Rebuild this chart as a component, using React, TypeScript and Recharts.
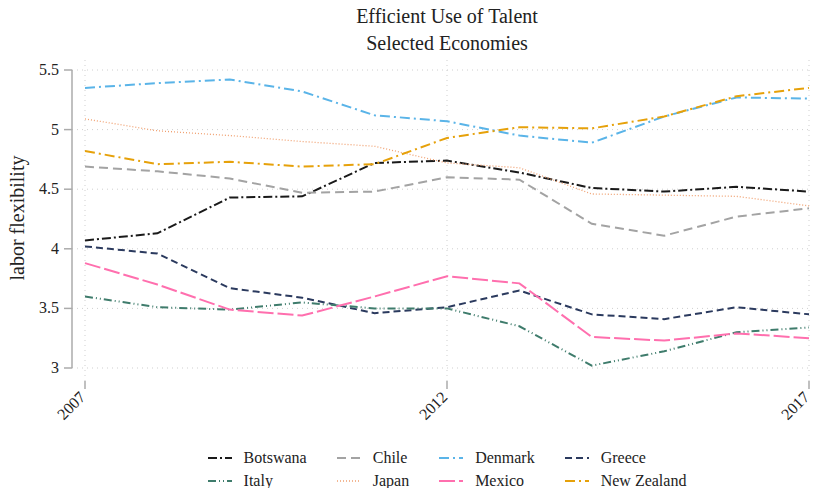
import { LineChart, Line, XAxis, YAxis, CartesianGrid, ReferenceLine } from "recharts";

const years = [2007, 2008, 2009, 2010, 2011, 2012, 2013, 2014, 2015, 2016, 2017];
const botswana = [4.07, 4.13, 4.43, 4.44, 4.72, 4.74, 4.64, 4.51, 4.48, 4.52, 4.48];
const chile = [4.69, 4.65, 4.59, 4.47, 4.48, 4.6, 4.58, 4.21, 4.11, 4.27, 4.34];
const denmark = [5.35, 5.39, 5.42, 5.32, 5.12, 5.07, 4.95, 4.89, 5.11, 5.27, 5.26];
const greece = [4.02, 3.96, 3.67, 3.59, 3.46, 3.51, 3.65, 3.45, 3.41, 3.51, 3.45];
const italy = [3.6, 3.51, 3.49, 3.55, 3.5, 3.5, 3.35, 3.02, 3.14, 3.3, 3.34];
const japan = [5.09, 4.99, 4.95, 4.9, 4.86, 4.72, 4.68, 4.46, 4.45, 4.44, 4.36];
const mexico = [3.88, 3.7, 3.49, 3.44, 3.6, 3.77, 3.71, 3.26, 3.23, 3.29, 3.25];
const newZealand = [4.82, 4.71, 4.73, 4.69, 4.71, 4.93, 5.02, 5.01, 5.11, 5.28, 5.35];

const xTicks = [2007, 2012, 2017];
const yTicks = [3, 3.5, 4, 4.5, 5, 5.5];

const series = [
  { key: "Botswana", values: botswana, color: "#1a1a1a", dash: "9 3 2 3", width: 2 },
  { key: "Chile", values: chile, color: "#a3a3a3", dash: "9 5", width: 2 },
  { key: "Denmark", values: denmark, color: "#5ab4e8", dash: "10 4 2 4", width: 2 },
  { key: "Greece", values: greece, color: "#2b3a5e", dash: "7 4", width: 2 },
  { key: "Italy", values: italy, color: "#3f7c6c", dash: "8 3 1 3 1 3", width: 2 },
  { key: "Japan", values: japan, color: "#f0a070", dash: "1 2", width: 1.3 },
  { key: "Mexico", values: mexico, color: "#ff6fae", dash: "16 4", width: 2 },
  { key: "New Zealand", values: newZealand, color: "#e6a10a", dash: "10 4 2 4", width: 2 },
];

const data = years.map((year, i) => {
  const row: Record<string, number> = { year };
  series.forEach((s) => {
    row[s.key] = s.values[i];
  });
  return row;
});

const font = '"Liberation Serif", "Times New Roman", serif';
const axisColor = "#ababab";

function XTick({ x, y, payload }: any) {
  return (
    <g transform={`translate(${x},${y})`}>
      <text
        x={-4}
        y={0}
        dy={6}
        textAnchor="end"
        transform="rotate(-45)"
        style={{ fontFamily: font, fontSize: 16 }}
        fill="#222"
      >
        {payload.value}
      </text>
    </g>
  );
}

function YTick({ x, y, payload }: any) {
  return (
    <text x={x} y={y} dy={5} textAnchor="end" style={{ fontFamily: font, fontSize: 16 }} fill="#222">
      {payload.value}
    </text>
  );
}

export default function App() {
  return (
    <div style={{ position: "absolute", left: 0, top: 0, width: 814, height: 488, overflow: "hidden", fontFamily: font, color: "#222" }}>
      <div style={{ position: "absolute", left: 247, top: 3, width: 400, textAlign: "center", fontSize: 20, lineHeight: "27px" }}>
        <div>Efficient Use of Talent</div>
        <div>Selected Economies</div>
      </div>
      <div
        style={{
          position: "absolute",
          left: -83,
          top: 206,
          width: 200,
          height: 24,
          lineHeight: "24px",
          textAlign: "center",
          fontSize: 20,
          transform: "rotate(-90deg)",
        }}
      >
        labor flexibility
      </div>

      <LineChart width={814} height={488} data={data} margin={{ top: 60, right: 5, bottom: 67, left: 12 }}>
        <CartesianGrid stroke="#cfcfcf" strokeDasharray="1 4" horizontalValues={yTicks} verticalValues={xTicks} />
        <XAxis
          dataKey="year"
          type="number"
          domain={[2007, 2017]}
          ticks={xTicks}
          padding={{ left: 13, right: 0 }}
          axisLine={false}
          tickLine={{ stroke: axisColor, strokeWidth: 1.5 }}
          tickSize={8}
          tickMargin={2}
          height={40}
          tick={<XTick />}
          interval={0}
        />
        <YAxis
          type="number"
          domain={[3, 5.5]}
          ticks={yTicks}
          padding={{ top: 10, bottom: 13 }}
          axisLine={false}
          tickLine={{ stroke: axisColor, strokeWidth: 1.5 }}
          tickSize={8}
          tickMargin={5}
          width={60}
          interval={0}
          tick={<YTick />}
        />
        <XAxis xAxisId="frame" type="number" domain={[0, 1]} hide />
        <YAxis yAxisId="frame" type="number" domain={[0, 1]} hide />
        <ReferenceLine
          xAxisId="frame"
          segment={[
            { x: 0, y: 3 },
            { x: 0, y: 5.5 },
          ]}
          stroke={axisColor}
          strokeWidth={1.5}
        />
        <ReferenceLine
          yAxisId="frame"
          segment={[
            { x: 2007, y: 0 },
            { x: 2017, y: 0 },
          ]}
          stroke={axisColor}
          strokeWidth={1.5}
        />
        {series.map((s) => (
          <Line
            key={s.key}
            type="linear"
            dataKey={s.key}
            stroke={s.color}
            strokeWidth={s.width}
            strokeDasharray={s.dash}
            dot={false}
            activeDot={false}
            isAnimationActive={false}
          />
        ))}
      </LineChart>

      <div style={{ position: "absolute", left: 0, top: 446, width: 894, display: "flex", justifyContent: "center" }}>
        <div style={{ display: "grid", gridTemplateColumns: "repeat(4, auto)", columnGap: 30, fontSize: 16, lineHeight: "23px" }}>
          {series.map((s) => (
            <div key={s.key} style={{ display: "flex", alignItems: "center" }}>
              <svg width={24} height={10} style={{ marginRight: 12 }}>
                <line x1={0} y1={5} x2={24} y2={5} stroke={s.color} strokeWidth={s.width} strokeDasharray={s.dash} />
              </svg>
              <span>{s.key}</span>
            </div>
          ))}
        </div>
      </div>
    </div>
  );
}
